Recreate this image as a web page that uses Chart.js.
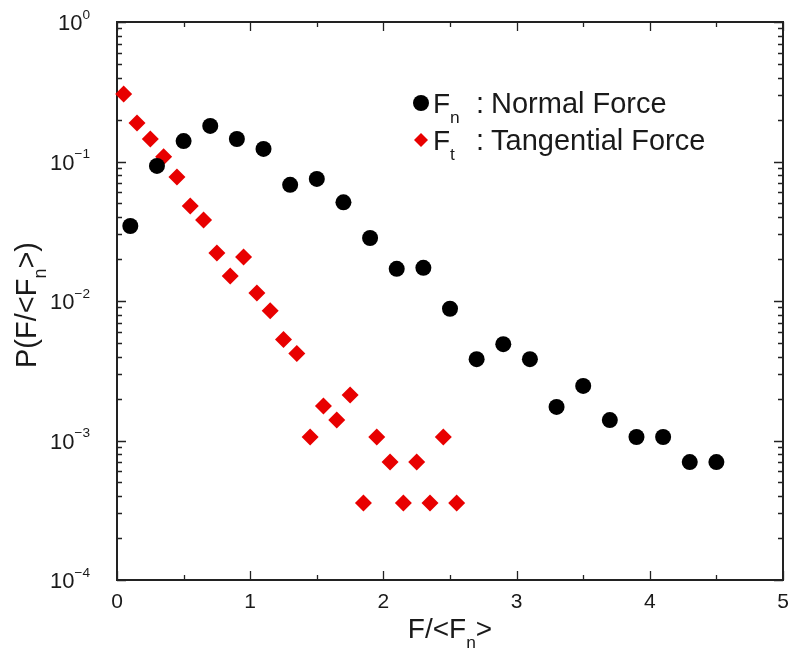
<!DOCTYPE html>
<html lang="en">
<head>
<meta charset="UTF-8">
<title>Force distribution</title>
<script src="https://cdn.jsdelivr.net/npm/chart.js"></script>
<style>
  html, body { margin: 0; padding: 0; background: #fff; }
</style>
</head>
<body>
<canvas id="chart" width="792" height="651"></canvas>
<script>
// normal force, black circles
const normalX = [0.1, 0.3, 0.5, 0.7, 0.9, 1.1, 1.3, 1.5, 1.7, 1.9, 2.1, 2.3, 2.5, 2.7, 2.9, 3.1, 3.3, 3.5, 3.7, 3.9, 4.1, 4.3, 4.5];
const normalP = [0.0345, 0.093, 0.14, 0.18, 0.145, 0.123, 0.068, 0.075, 0.051, 0.0283, 0.017, 0.0173, 0.0088, 0.00383, 0.0049, 0.00383, 0.00174, 0.00246, 0.0014, 0.00106, 0.00106, 0.0007, 0.0007];

// tangential force, red diamonds
const tangX = [0.05, 0.15, 0.25, 0.35, 0.45, 0.55, 0.65, 0.75, 0.85, 0.95, 1.05, 1.15, 1.25, 1.35, 1.45, 1.55, 1.65, 1.75, 1.85, 1.95, 2.05, 2.15, 2.25, 2.35, 2.45, 2.55];
const tangP = [0.305, 0.189, 0.145, 0.108, 0.0775, 0.048, 0.038, 0.0221, 0.0151, 0.0207, 0.0114, 0.0085, 0.0053, 0.0042, 0.00106, 0.00177, 0.0014, 0.00212, 0.000356, 0.00106, 0.0007, 0.000356, 0.0007, 0.000356, 0.00106, 0.000356];

const xTickLabels = [0, 1, 2, 3, 4, 5];
const yTickExps = [0, -1, -2, -3, -4];
const legendLabels = [['F', 'n', 'Normal Force'], ['F', 't', 'Tangential Force']];

const FONT = '"Liberation Sans", Arial, Helvetica, sans-serif';
const INK = '#1a1a1a';

// text with a sub or superscript piece: segs = [[text, 'sub'|'sup'|null], ...]
function richWidth(ctx, segs, size) {
  let w = 0;
  segs.forEach(([t, k]) => {
    ctx.font = (k ? size * 0.62 : size) + 'px ' + FONT;
    w += ctx.measureText(t).width;
  });
  return w;
}
function drawRich(ctx, segs, x, y, size, align) {
  let w = richWidth(ctx, segs, size);
  let cx = align === 'right' ? x - w : align === 'center' ? x - w / 2 : x;
  ctx.textAlign = 'left';
  ctx.textBaseline = 'alphabetic';
  segs.forEach(([t, k]) => {
    ctx.font = (k ? size * 0.62 : size) + 'px ' + FONT;
    let dy = k === 'sub' ? size * 0.36 : k === 'sup' ? -size * 0.52 : 0;
    ctx.fillText(t, cx, y + dy);
    cx += ctx.measureText(t).width;
  });
  return cx;
}

const frame = {
  id: 'frame',
  beforeDatasetsDraw(chart) {
    const { ctx, chartArea: a, scales: { x, y } } = chart;
    ctx.save();
    ctx.strokeStyle = '#222';
    ctx.lineWidth = 2;
    ctx.strokeRect(a.left, a.top, a.right - a.left, a.bottom - a.top);

    ctx.lineWidth = 1.3;
    ctx.beginPath();
    // x ticks every 0.5, top and bottom, pointing in
    for (let v = 0; v <= 5.0001; v += 0.5) {
      const px = Math.round(x.getPixelForValue(v)) + 0.5;
      const len = Number.isInteger(v) ? 9 : 5;
      ctx.moveTo(px, a.bottom); ctx.lineTo(px, a.bottom - len);
      ctx.moveTo(px, a.top); ctx.lineTo(px, a.top + len);
    }
    // y ticks: decades long, 2..9 short
    for (let e = -4; e <= 0; e++) {
      for (let m = 1; m <= 9; m++) {
        if (e === 0 && m > 1) break;
        const py = Math.round(y.getPixelForValue(m * Math.pow(10, e))) + 0.5;
        const len = m === 1 ? 9 : 5;
        ctx.moveTo(a.left, py); ctx.lineTo(a.left + len, py);
        ctx.moveTo(a.right, py); ctx.lineTo(a.right - len, py);
      }
    }
    ctx.stroke();

    ctx.fillStyle = INK;
    xTickLabels.forEach(v => {
      drawRich(ctx, [[String(v), null]], x.getPixelForValue(v), a.bottom + 28, 21, 'center');
    });
    yTickExps.forEach(e => {
      const py = y.getPixelForValue(Math.pow(10, e));
      const sup = e === 0 ? '0' : '\u2212' + (-e);
      drawRich(ctx, [['10', null], [sup, 'sup']], 90, py + 8, 22, 'right');
    });

    // axis titles
    drawRich(ctx, [['F/<F', null], ['n', 'sub'], ['>', null]], (a.left + a.right) / 2, 638, 28, 'center');
    ctx.translate(36, 305);
    ctx.rotate(-Math.PI / 2);
    drawRich(ctx, [['P(F/<F', null], ['n', 'sub'], ['>)', null]], 0, 0, 29, 'center');
    ctx.restore();
  },
  afterDatasetsDraw(chart) {
    const { ctx } = chart;
    ctx.save();
    const rows = [
      { y: 103, style: { pointStyle: 'circle', radius: 8, backgroundColor: '#000', borderColor: '#000', borderWidth: 0 } },
      { y: 140, style: { pointStyle: 'rectRot', radius: 7, backgroundColor: '#e80000', borderColor: '#e80000', borderWidth: 0 } }
    ];
    rows.forEach((r, i) => {
      ctx.fillStyle = r.style.backgroundColor;
      Chart.helpers.drawPoint(ctx, r.style, 421, r.y);
      const [b, s, rest] = legendLabels[i];
      ctx.fillStyle = INK;
      const base = r.y + 10;
      const end = drawRich(ctx, [[b, null], [s, 'sub']], 433, base, 28, 'left');
      drawRich(ctx, [[':', null]], Math.max(end + 8, 476), base, 29, 'left');
      drawRich(ctx, [[rest, null]], 491, base, 29, 'left');
    });
    ctx.restore();
  }
};

new Chart(document.getElementById('chart'), {
  type: 'scatter',
  data: {
    datasets: [
      {
        label: 'Fn : Normal Force',
        data: normalX.map((v, i) => ({ x: v, y: normalP[i] })),
        pointStyle: 'circle',
        pointRadius: 8,
        pointHoverRadius: 8,
        backgroundColor: '#000',
        borderColor: '#000',
        borderWidth: 0,
        clip: false
      },
      {
        label: 'Ft : Tangential Force',
        data: tangX.map((v, i) => ({ x: v, y: tangP[i] })),
        pointStyle: 'rectRot',
        pointRadius: 8.5,
        pointHoverRadius: 8.5,
        backgroundColor: '#e80000',
        borderColor: '#e80000',
        borderWidth: 0,
        clip: false
      }
    ]
  },
  options: {
    responsive: false,
    animation: false,
    events: [],
    layout: { padding: { left: 117, right: 9, top: 22, bottom: 71 } },
    plugins: { legend: { display: false }, tooltip: { enabled: false } },
    scales: {
      x: { type: 'linear', min: 0, max: 5, display: false },
      y: { type: 'logarithmic', min: 1e-4, max: 1, display: false }
    }
  },
  plugins: [frame]
});
</script>
</body>
</html>
